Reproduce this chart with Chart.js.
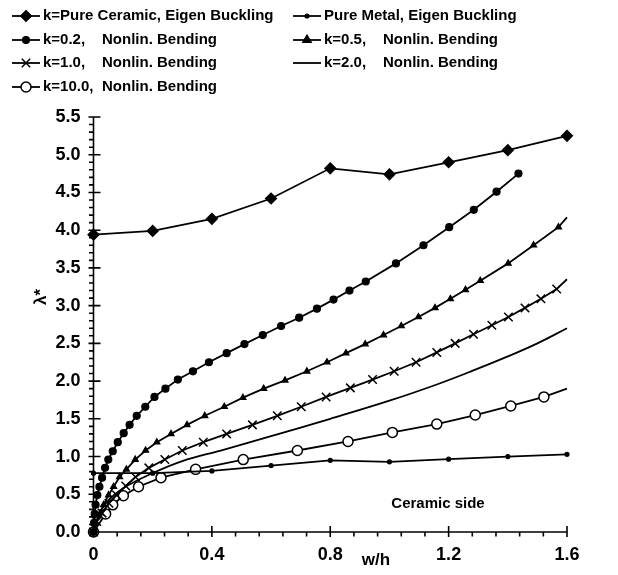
<!DOCTYPE html>
<html>
<head>
<meta charset="utf-8">
<script src="https://cdn.jsdelivr.net/npm/chart.js@4/dist/chart.umd.min.js"></script>
<style>
  html, body { margin: 0; padding: 0; background: #fff; }
  #wrap { width: 618px; height: 575px; }
</style>
</head>
<body>
<div id="wrap"><canvas id="plot"></canvas></div>
<script>
// values (w/h -> lambda*)
const xTicks = [0, 0.4, 0.8, 1.2, 1.6];
const yTicks = [0, 0.5, 1, 1.5, 2, 2.5, 3, 3.5, 4, 4.5, 5, 5.5];

const ceramicX = [0, 0.2, 0.4, 0.6, 0.8, 1.0, 1.2, 1.4, 1.6];
const ceramicY = [3.94, 3.99, 4.15, 4.42, 4.82, 4.74, 4.90, 5.06, 5.25];

const metalX = [0, 0.2, 0.4, 0.6, 0.8, 1.0, 1.2, 1.4, 1.6];
const metalY = [0.78, 0.78, 0.81, 0.88, 0.95, 0.93, 0.965, 1.0, 1.03];

const k02X = [0, 0.002, 0.004, 0.007, 0.013, 0.02, 0.029, 0.039, 0.05, 0.065, 0.082, 0.102, 0.122, 0.146,
  0.175, 0.206, 0.243, 0.285, 0.336, 0.39, 0.45, 0.51, 0.572, 0.634, 0.695, 0.755, 0.811, 0.865, 0.92,
  1.022, 1.115, 1.202, 1.285, 1.362, 1.436];
const k02Y = [0, 0.12, 0.24, 0.36, 0.49, 0.60, 0.72, 0.85, 0.96, 1.07, 1.19, 1.31, 1.42, 1.54,
  1.66, 1.79, 1.90, 2.02, 2.13, 2.25, 2.37, 2.49, 2.61, 2.73, 2.84, 2.96, 3.08, 3.20, 3.32,
  3.56, 3.80, 4.04, 4.27, 4.51, 4.75];

const k05X = [0, 0.008, 0.023, 0.034, 0.051, 0.068, 0.088, 0.111, 0.141, 0.176, 0.214, 0.262, 0.316, 0.376,
  0.442, 0.505, 0.575, 0.647, 0.721, 0.789, 0.853, 0.918, 0.98, 1.04, 1.098, 1.154, 1.206, 1.257, 1.307,
  1.401, 1.487, 1.571, 1.6];
const k05Y = [0, 0.12, 0.25, 0.36, 0.49, 0.60, 0.73, 0.83, 0.96, 1.08, 1.19, 1.30, 1.42, 1.54,
  1.66, 1.78, 1.90, 2.01, 2.13, 2.25, 2.37, 2.49, 2.61, 2.73, 2.85, 2.97, 3.09, 3.21, 3.33,
  3.56, 3.80, 4.04, 4.17];

const k10X = [0, 0.011, 0.029, 0.052, 0.078, 0.109, 0.142, 0.187, 0.241, 0.300, 0.371, 0.45, 0.537, 0.621,
  0.702, 0.786, 0.868, 0.943, 1.016, 1.090, 1.160, 1.222, 1.284, 1.346, 1.402, 1.458, 1.512, 1.565, 1.6];
const k10Y = [0, 0.14, 0.25, 0.38, 0.49, 0.61, 0.73, 0.85, 0.96, 1.08, 1.19, 1.30, 1.42, 1.54,
  1.66, 1.79, 1.91, 2.02, 2.13, 2.25, 2.38, 2.50, 2.62, 2.74, 2.85, 2.97, 3.09, 3.22, 3.35];

const k20X = [0, 0.02, 0.05, 0.1, 0.2, 0.3, 0.43, 0.6, 0.8, 1.0, 1.16, 1.27, 1.39, 1.5, 1.6];
const k20Y = [0, 0.25, 0.42, 0.58, 0.78, 0.94, 1.08, 1.27, 1.50, 1.74, 1.955, 2.12, 2.31, 2.50, 2.70];

const k100X = [0, 0.041, 0.065, 0.101, 0.152, 0.228, 0.345, 0.506, 0.689, 0.86, 1.01, 1.16, 1.29, 1.41, 1.522, 1.6];
const k100Y = [0, 0.24, 0.36, 0.48, 0.60, 0.72, 0.83, 0.96, 1.08, 1.20, 1.32, 1.43, 1.55, 1.67, 1.79, 1.90];

function pts(xs, ys) {
  return xs.map((x, i) => ({ x: x, y: ys[i] }));
}

// last point only carries the line on to the axis end, no marker
function hideLast(r) {
  return ctx => (ctx.dataIndex === ctx.dataset.data.length - 1 ? 0 : r);
}

const FONT = "'Liberation Sans', Arial, sans-serif";

function series(label, xs, ys, style, radius, fill, extra) {
  return Object.assign({
    label: label,
    data: pts(xs, ys),
    borderColor: "#000",
    borderWidth: 1.8,
    pointStyle: style,
    pointRadius: radius,
    pointBackgroundColor: fill,
    pointBorderColor: "#000",
    pointBorderWidth: 1.2,
    tension: 0,
    fill: false,
    clip: false
  }, extra || {});
}

const datasets = [
  series("k=Pure Ceramic, Eigen Buckling", ceramicX, ceramicY, "rectRot", 5.5, "#000", { col: 0, row: 0 }),
  series("Pure Metal, Eigen Buckling", metalX, metalY, "circle", 2, "#000", { col: 1, row: 0 }),
  series("k=0.2,\tNonlin. Bending", k02X, k02Y, "circle", 3.5, "#000", { col: 0, row: 1 }),
  series("k=0.5,\tNonlin. Bending", k05X, k05Y, "triangle", 3.5, "#000", { col: 1, row: 1, pointRadius: hideLast(3.5) }),
  series("k=1.0,\tNonlin. Bending", k10X, k10Y, "crossRot", 6, "#000", { col: 0, row: 2, pointBorderWidth: 1.5, pointRadius: hideLast(6) }),
  series("k=2.0,\tNonlin. Bending", k20X, k20Y, "circle", 0, "#000", { col: 1, row: 2, tension: 0.4 }),
  series("k=10.0,\tNonlin. Bending", k100X, k100Y, "circle", 5, "#fff", { col: 0, row: 3, pointBorderWidth: 1.5, pointRadius: hideLast(5) })
];

function marker(ctx, style, r, fill, bw, x, y) {
  if (!r) return;
  ctx.save();
  ctx.fillStyle = fill;
  ctx.strokeStyle = "#000";
  ctx.lineWidth = bw;
  ctx.beginPath();
  if (style === "rectRot") {
    ctx.moveTo(x, y - r); ctx.lineTo(x + r, y); ctx.lineTo(x, y + r); ctx.lineTo(x - r, y); ctx.closePath();
    ctx.fill(); ctx.stroke();
  } else if (style === "triangle") {
    ctx.moveTo(x, y - r); ctx.lineTo(x + r * 0.87, y + r * 0.5); ctx.lineTo(x - r * 0.87, y + r * 0.5); ctx.closePath();
    ctx.fill(); ctx.stroke();
  } else if (style === "crossRot") {
    const d = r * 0.7;
    ctx.moveTo(x - d, y - d); ctx.lineTo(x + d, y + d);
    ctx.moveTo(x + d, y - d); ctx.lineTo(x - d, y + d);
    ctx.stroke();
  } else {
    ctx.arc(x, y, r, 0, Math.PI * 2);
    ctx.fill(); ctx.stroke();
  }
  ctx.restore();
}

const legendPlugin = {
  id: "paperLegend",
  afterDraw(chart) {
    const ctx = chart.ctx;
    const colX = [12, 293];
    const rowY = [16, 40, 63, 87];
    ctx.save();
    ctx.font = "bold 15px " + FONT;
    ctx.fillStyle = "#000";
    ctx.textBaseline = "middle";
    chart.data.datasets.forEach(ds => {
      const x0 = colX[ds.col], y0 = rowY[ds.row];
      ctx.strokeStyle = "#000";
      ctx.lineWidth = 1.8;
      ctx.beginPath();
      ctx.moveTo(x0, y0);
      ctx.lineTo(x0 + 28, y0);
      ctx.stroke();
      const r = typeof ds.pointRadius === "function" ? (ds.pointStyle === "crossRot" ? 6 : 5) : ds.pointRadius;
      marker(ctx, ds.pointStyle, r, ds.pointBackgroundColor, ds.pointBorderWidth, x0 + 14, y0);
      const parts = ds.label.split("\t");
      ctx.fillText(parts[0], x0 + 31, y0);
      if (parts[1]) {
        const natural = x0 + 31 + ctx.measureText(parts[0] + " ").width;
        ctx.fillText(parts[1], Math.max(x0 + 90, natural), y0);
      }
    });
    ctx.restore();
  }
};

const axisPlugin = {
  id: "paperAxes",
  afterDraw(chart) {
    const ctx = chart.ctx;
    const xs = chart.scales.x, ys = chart.scales.y;
    const ax = xs.getPixelForValue(0), ay = ys.getPixelForValue(0);
    ctx.save();
    ctx.strokeStyle = "#000";
    ctx.lineWidth = 1.6;
    ctx.beginPath();
    ctx.moveTo(ax, ys.getPixelForValue(5.5)); ctx.lineTo(ax, ay);
    ctx.lineTo(xs.getPixelForValue(1.6), ay);
    for (let i = 0; i <= 55; i++) {
      const py = ys.getPixelForValue(i / 10);
      if (i % 5 === 0) { ctx.moveTo(ax - 5, py); ctx.lineTo(ax + 7, py); }
      else { ctx.moveTo(ax - 4.5, py); ctx.lineTo(ax, py); }
    }
    for (let i = 0; i <= 20; i++) {
      const px = xs.getPixelForValue(i * 0.08);
      if (i % 5 === 0) { ctx.moveTo(px, ay - 6); ctx.lineTo(px, ay + 5); }
      else { ctx.moveTo(px, ay); ctx.lineTo(px, ay + 4.5); }
    }
    ctx.stroke();
    // axis titles and note
    ctx.fillStyle = "#000";
    ctx.textAlign = "center";
    ctx.textBaseline = "middle";
    ctx.font = "bold 17px " + FONT;
    ctx.fillText("w/h", 376, 560);
    ctx.save();
    ctx.translate(41, 297);
    ctx.rotate(-Math.PI / 2);
    ctx.fillText("λ*", 0, 0);
    ctx.restore();
    ctx.font = "bold 15px " + FONT;
    ctx.fillText("Ceramic side", 438, 504);
    ctx.restore();
  }
};

new Chart(document.getElementById("plot"), {
  type: "line",
  data: { datasets: datasets },
  options: {
    responsive: true,
    maintainAspectRatio: false,
    animation: false,
    layout: { padding: { top: 117, right: 51, left: 0, bottom: 0 } },
    plugins: { legend: { display: false }, tooltip: { enabled: false } },
    scales: {
      x: {
        type: "linear",
        min: 0, max: 1.6,
        afterBuildTicks: s => { s.ticks = xTicks.map(v => ({ value: v })); },
        afterFit: s => { s.height = 43; },
        grid: { display: false, drawTicks: false },
        border: { display: false },
        ticks: {
          color: "#000",
          padding: 12,
          maxRotation: 0,
          font: { family: FONT, size: 18, weight: "bold" },
          callback: v => (v === 0 ? "0" : v.toFixed(1))
        }
      },
      y: {
        min: 0, max: 5.5,
        afterBuildTicks: s => { s.ticks = yTicks.map(v => ({ value: v })); },
        afterFit: s => { s.width = 93.5; },
        grid: { display: false, drawTicks: false },
        border: { display: false },
        ticks: {
          color: "#000",
          padding: 13,
          font: { family: FONT, size: 18, weight: "bold" },
          callback: v => v.toFixed(1)
        }
      }
    }
  },
  plugins: [legendPlugin, axisPlugin]
});
</script>
</body>
</html>
